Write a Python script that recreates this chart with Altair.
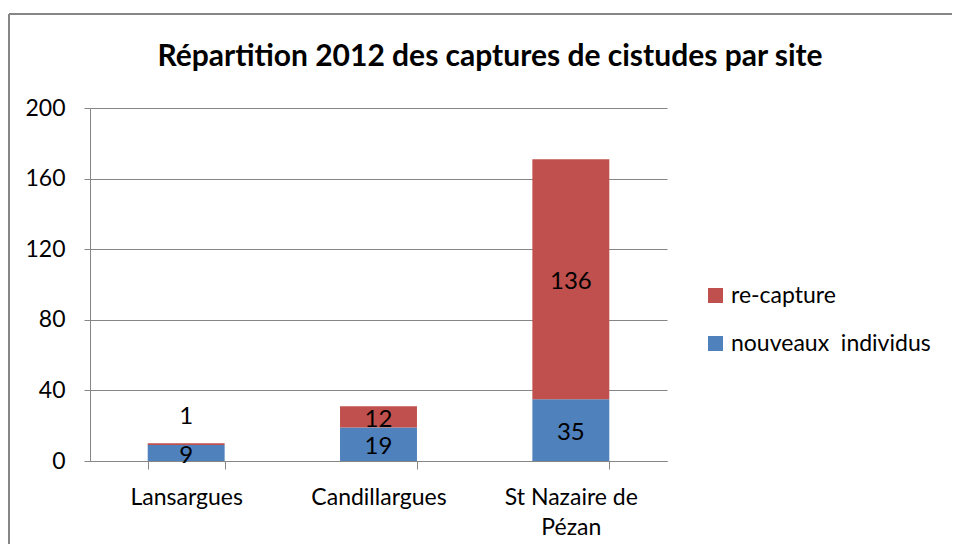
import altair as alt
import pandas as pd

sites = ["Lansargues", "Candillargues", "St Nazaire de Pézan"]
nouveaux = [9, 19, 35]
recapture = [1, 12, 136]
series = ["re-capture", "nouveaux  individus"]
colors = ["#C0504D", "#4F81BD"]
y_ticks = [0, 40, 80, 120, 160, 200]
title_text = "Répartition 2012 des captures de cistudes par site"

rows = []
for s, n, r in zip(sites, nouveaux, recapture):
    rows.append({"site": s, "serie": series[1], "value": n, "order": 0})
    rows.append({"site": s, "serie": series[0], "value": r, "order": 1})
df = pd.DataFrame(rows)

FONT = "Lato"

base = alt.Chart(df)

xenc = alt.X("site:N", sort=sites,
             scale=alt.Scale(paddingInner=0.6, paddingOuter=0.3),
             axis=alt.Axis(title=None, labelAngle=0, tickBand="extent", tickSize=8,
                           labelPadding=17, labelFontSize=23, labelFont=FONT,
                           labelColor="#000000", labelLineHeight=30,
                           domainColor="#868686", tickColor="#868686",
                           labelExpr="datum.value == 'St Nazaire de Pézan' ? ['St Nazaire de', 'Pézan'] : datum.value"))

bars = base.mark_bar().encode(
    x=xenc,
    y=alt.Y("value:Q", stack="zero",
            scale=alt.Scale(domain=[0, 200], nice=False),
            axis=alt.Axis(title=None, values=y_ticks, grid=True, gridColor="#868686",
                          domainColor="#868686", tickColor="#868686", tickSize=6,
                          labelPadding=19, labelFontSize=23, labelFont=FONT,
                          labelColor="#000000")),
    color=alt.Color("serie:N", scale=alt.Scale(domain=series, range=colors),
                    legend=alt.Legend(title=None, orient="none", legendX=614, legendY=176,
                                      symbolType="square", symbolSize=225,
                                      symbolStrokeWidth=0, labelFontSize=23,
                                      labelFont=FONT, labelColor="#000000",
                                      labelLimit=0,
                                      labelExpr="replace(datum.label, '  ', '\u00a0 ')",
                                      rowPadding=24, labelOffset=4)),
    order=alt.Order("order:Q"),
)

stacked = base.transform_stack(
    stack="value", groupby=["site"], as_=["y0", "y1"], sort=[alt.SortField("order")]
).transform_calculate(mid="(datum.y0 + datum.y1) / 2")

labels = stacked.transform_filter("datum.value >= 3").mark_text(
    font=FONT, fontSize=24, color="#000000", baseline="middle", dy=3
).encode(x=alt.X("site:N", sort=sites), y=alt.Y("mid:Q"), text="value:Q")

small_labels = stacked.transform_filter("datum.value < 3").mark_text(
    font=FONT, fontSize=24, color="#000000", baseline="middle", dy=-27
).encode(x=alt.X("site:N", sort=sites), y=alt.Y("mid:Q"), text="value:Q")

title = alt.Chart(alt.Data(values=[{}])).mark_text(
    font=FONT, fontSize=30, fontWeight="bold", color="#000000",
    align="center", baseline="middle"
).encode(x=alt.value(400), y=alt.value(-51), text=alt.value(title_text))

border_top = alt.Chart(alt.Data(values=[{}])).mark_rule(
    stroke="#868686", strokeWidth=2
).encode(x=alt.value(-81), x2=alt.value(862), y=alt.value(-94), y2=alt.value(-94))

border_left = alt.Chart(alt.Data(values=[{}])).mark_rule(
    stroke="#868686", strokeWidth=2
).encode(x=alt.value(-81), x2=alt.value(-81), y=alt.value(-94), y2=alt.value(440))

chart = alt.layer(border_top, border_left, bars, labels, small_labels, title).properties(
    width=577, height=353,
    padding={"left": 82, "top": 100, "right": 285, "bottom": 83},
    autosize=alt.AutoSizeParams(type="none"),
).configure_view(stroke=None)

chart.save("out.html", embed_options={"renderer": "svg", "actions": False})
